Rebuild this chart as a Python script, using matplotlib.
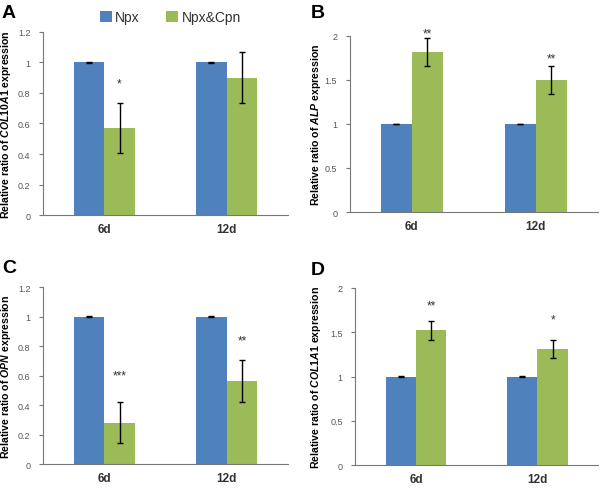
import numpy as np
import matplotlib
matplotlib.use("Agg")
import matplotlib.pyplot as plt

plt.rcParams['font.family'] = ['Liberation Sans', 'DejaVu Sans']
plt.rcParams['mathtext.fontset'] = 'custom'
plt.rcParams['mathtext.it'] = 'Liberation Sans:bold:italic'
plt.rcParams['mathtext.rm'] = 'Liberation Sans:bold'

days = ['6d', '12d']
series = ['Npx', 'Npx&Cpn']

# per panel: letter, gene, ymax, ytick step, Npx mean/err, Npx&Cpn mean/err, stars, star heights
letters = ['A', 'B', 'C', 'D']
genes = ['COL10A1', 'ALP', 'OPN', 'COL1A1']
ymax = [1.2, 2, 1.2, 2]
ystep = [0.2, 0.5, 0.2, 0.5]
npx_vals = [[1, 1], [1, 1], [1, 1], [1, 1]]
npx_err = [[0.003, 0.003], [0.005, 0.005], [0.003, 0.003], [0.005, 0.005]]
cpn_vals = [[0.57, 0.90], [1.82, 1.50], [0.28, 0.565], [1.52, 1.31]]
cpn_err = [[0.165, 0.165], [0.16, 0.16], [0.14, 0.143], [0.105, 0.10]]
stars = [['*', ''], ['**', '**'], ['***', '**'], ['**', '*']]
star_y = [[0.86, 0], [2.03, 1.74], [0.60, 0.84], [1.80, 1.64]]

blue = '#4F81BD'
green = '#9BBB59'

fig = plt.figure(figsize=(6, 4.89), dpi=100)
W, H = 600, 489
rects = [[0.0717, 0.558, 0.408, 0.375],
         [0.583, 0.5644, 0.413, 0.36],
         [0.0717, 0.049, 0.408, 0.362],
         [0.592, 0.047, 0.405, 0.362]]
label_x = [-0.122, -0.109, -0.122, -0.132]
letter_px = [(2, 18), (311, 18), (2, 273), (311, 275)]

x = np.arange(len(days))
w = 0.25
ekw = dict(ecolor='black', capsize=2.5, elinewidth=1, capthick=1)
for i in range(4):
    ax = fig.add_axes(rects[i])
    b1 = ax.bar(x - w/2, npx_vals[i], w, color=blue, yerr=npx_err[i], error_kw=ekw, label=series[0])
    b2 = ax.bar(x + w/2, cpn_vals[i], w, color=green, yerr=cpn_err[i], error_kw=ekw, label=series[1])
    for j in range(len(days)):
        if stars[i][j]:
            ax.text(x[j] + w/2, star_y[i][j], stars[i][j], ha='center', va='center',
                    fontsize=8.5, color='#333333', clip_on=False)
    ax.set_xlim(-0.5, 1.5)
    ax.set_ylim(0, ymax[i])
    ticks = np.arange(0, ymax[i] + 1e-9, ystep[i])
    ax.set_yticks(ticks)
    ax.set_yticklabels(['%g' % t for t in ticks], fontsize=6.5, color='#555555')
    ax.set_xticks(x)
    ax.set_xticklabels(days, fontsize=8.5, fontweight='bold', color='#333333')
    ax.tick_params(axis='x', length=0, pad=6)
    ax.tick_params(axis='y', length=3, width=0.8, color='#777777', pad=6)
    for s in ['top', 'right']:
        ax.spines[s].set_visible(False)
    for s in ['left', 'bottom']:
        ax.spines[s].set_color('#777777')
        ax.spines[s].set_linewidth(0.8)
    ax.set_ylabel(r'Relative ratio of $\mathit{%s}$ expression' % genes[i],
                  fontsize=7.6, fontweight='bold')
    ax.yaxis.set_label_coords(label_x[i], 0.5)
    lx, ly = letter_px[i]
    fig.text(lx / W, 1 - ly / H, letters[i], fontsize=14, fontweight='bold',
             ha='left', va='baseline')
    if i == 0:
        fig.legend(handles=[b1, b2], labels=series, loc='center', bbox_to_anchor=(0.284, 0.963),
                   ncol=2, frameon=False, fontsize=10, handlelength=0.85, handleheight=0.85,
                   columnspacing=1.9, handletextpad=0.25, labelcolor='#333333')

fig.savefig('out.png', dpi=100)
